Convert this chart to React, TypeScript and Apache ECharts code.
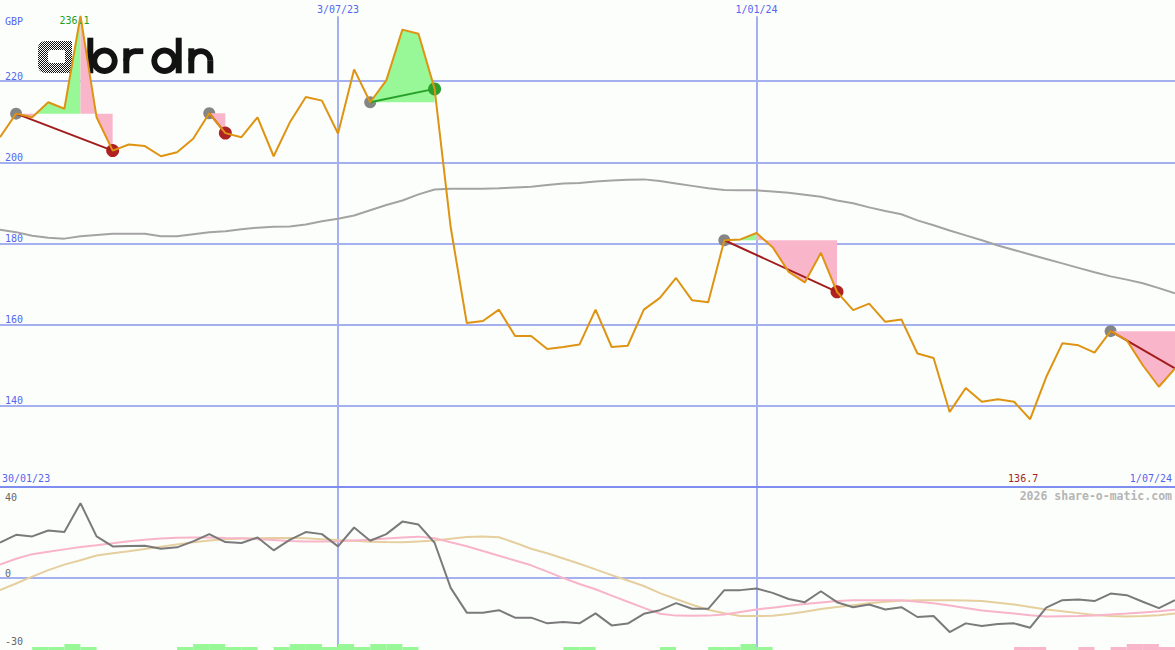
import React, { useEffect, useRef } from "react";
import * as echarts from "echarts";

// Weekly closing prices (GBP), first week 6/02/23
const price = [
  206.2, 212.0, 211.1, 214.8, 213.2, 236.1, 211.1, 202.9, 204.4, 204.0,
  201.5, 202.5, 205.8, 212.1, 207.2, 206.2, 211.1, 201.5, 209.8, 216.1,
  215.2, 207.1, 222.9, 214.8, 220.2, 232.7, 231.7, 218.1, 184.0, 160.4,
  160.9, 163.7, 157.2, 157.2, 154.0, 154.5, 155.1, 163.7, 154.5, 154.8,
  163.7, 166.6, 171.5, 166.0, 165.5, 180.8, 181.0, 182.6, 179.1, 173.0,
  170.4, 177.7, 168.1, 163.6, 165.2, 160.7, 161.3, 152.9, 151.8, 138.5,
  144.4, 141.0, 141.6, 141.0, 136.7, 147.1, 155.4, 154.9, 153.1, 158.4,
  156.2, 150.0, 144.7, 149.2,
];

// Long moving average of the close
const movingAvg = [
  183.4, 182.8, 181.9, 181.4, 181.2, 181.8, 182.1, 182.4, 182.4, 182.4,
  181.8, 181.8, 182.3, 182.8, 183.0, 183.5, 183.9, 184.1, 184.2, 184.7,
  185.5, 186.1, 186.9, 188.2, 189.5, 190.6, 192.1, 193.3, 193.5, 193.5,
  193.5, 193.6, 193.8, 194.0, 194.4, 194.8, 194.9, 195.3, 195.5, 195.7,
  195.8, 195.4, 194.8, 194.2, 193.6, 193.2, 193.1, 193.1, 192.8, 192.5,
  192.0, 191.5, 190.6, 189.9, 188.9, 188.0, 187.2, 185.7, 184.5, 183.2,
  182.0, 180.8, 179.5, 178.4, 177.3, 176.2, 175.1, 174.0, 172.9, 171.9,
  171.1, 170.2, 169.0, 167.7,
];

// Lower panel: momentum oscillator and its two smoothings
const momentum = [
  15.6, 19.0, 18.3, 20.9, 20.2, 32.9, 18.3, 13.9, 14.1, 14.2,
  12.9, 13.5, 16.1, 19.3, 15.8, 15.4, 17.8, 12.2, 16.8, 20.2,
  19.3, 13.9, 22.2, 16.4, 19.3, 24.8, 23.5, 15.5, -4.3, -15.2,
  -15.2, -14.1, -17.4, -17.4, -19.9, -19.3, -19.9, -15.5, -20.8, -20.0,
  -15.7, -14.1, -11.0, -13.5, -13.5, -5.3, -5.3, -4.6, -6.5, -9.2,
  -10.6, -5.8, -10.6, -12.8, -11.6, -13.8, -12.8, -17.1, -16.7, -23.7,
  -19.9, -21.1, -20.2, -19.9, -21.8, -13.0, -9.7, -9.4, -10.1, -6.8,
  -7.5, -10.4, -13.2, -9.7,
];

const fastSignal = [
  5.9, 8.5, 10.5, 11.6, 12.6, 13.6, 14.4, 15.3, 16.2, 16.8,
  17.4, 17.7, 17.8, 17.8, 17.6, 17.5, 17.0, 16.7, 16.3, 16.1,
  16.1, 16.2, 16.5, 16.8, 17.4, 17.8, 18.2, 17.5, 15.7, 14.0,
  11.9, 9.8, 7.7, 5.6, 2.8, 0.0, -2.6, -4.9, -7.7, -10.4,
  -13.1, -15.7, -16.5, -16.6, -16.5, -16.0, -14.9, -13.8, -13.0, -12.2,
  -11.4, -10.7, -10.1, -9.7, -9.7, -9.7, -9.7, -10.4, -11.1, -12.1,
  -13.2, -14.2, -14.9, -15.6, -16.3, -16.9, -16.8, -16.7, -16.4, -16.0,
  -15.6, -15.1, -14.6, -13.9,
];

const slowSignal = [
  -5.3, -2.4, 0.6, 3.5, 5.9, 7.8, 9.9, 10.9, 11.8, 12.8,
  13.8, 14.8, 15.7, 16.5, 17.0, 17.4, 17.5, 17.6, 17.6, 17.5,
  17.1, 16.7, 16.4, 16.0, 15.8, 15.7, 16.1, 16.5, 17.3, 18.0,
  18.3, 17.9, 15.5, 12.9, 10.9, 8.6, 6.3, 3.8, 1.3, -1.1,
  -3.5, -6.6, -9.2, -11.7, -13.9, -15.5, -16.7, -16.7, -16.6, -15.8,
  -14.8, -13.6, -12.7, -11.9, -11.1, -10.4, -10.0, -9.7, -9.7, -9.7,
  -9.9, -10.1, -10.8, -11.6, -12.7, -13.8, -14.6, -15.4, -16.2, -16.7,
  -16.9, -16.7, -16.3, -15.6,
];

// Weekly trend signal strength: +2 / +1 bullish, -1 / -2 bearish
const trendSignal = [
  0, 0, 1, 1, 2, 1, 0, 0, 0, 0,
  0, 1, 2, 2, 1, 1, 0, 1, 2, 2,
  1, 2, 1, 2, 2, 1, 0, 0, 0, 0,
  0, 0, 0, 0, 0, 1, 1, 0, 0, 0,
  0, 1, 0, 0, 1, 1, 2, 1, 0, 0,
  0, 0, 0, 0, 0, 0, 0, 0, 0, 0,
  0, 0, 0, -1, -1, 0, 0, -1, 0, -1,
  -2, -2, -1, 0,
];

// Swings: [start week, end week]
const swings: [number, number][] = [
  [1, 7],
  [13, 14],
  [23, 27],
  [45, 52],
  [69, 73],
];

const priceTicks = [140, 160, 180, 200, 220];
const lowerTicks = [40, 0, -30];
const dateMarks = ["3/07/23", "1/01/24"];
const periodStart = "30/01/23";
const periodEnd = "1/07/24";
const currency = "GBP";
const credit = "2026 share-o-matic.com";

const FIRST_WEEK = Date.UTC(2023, 1, 6);
const weeks = price.map((_, i) => {
  const d = new Date(FIRST_WEEK + i * 7 * 86400000);
  const mm = String(d.getUTCMonth() + 1).padStart(2, "0");
  const yy = String(d.getUTCFullYear()).slice(2);
  return `${d.getUTCDate()}/${mm}/${yy}`;
});

const PRICE_MIN = 120;
const PRICE_MAX = 240;
const LOWER_MIN = -31.6;
const LOWER_MAX = 40;

const BG = "#fcfefc";
const MONO = '"DejaVu Sans Mono", monospace';
const AXIS_BLUE = "#5566ee";
const GRID_BLUE = "#a4b0f0";
const SEP_BLUE = "#7f8df0";
const FILL_UP = "#98f898";
const FILL_DOWN = "#f9b6ca";

// Area between the price and the swing's starting level, plus the start dot
function swingFillItem(params: any, api: any) {
  const [s, e] = swings[params.dataIndex];
  const level = price[s];
  const rising = price[e] > level;
  let pivot = s;
  for (let k = s; k <= e; k++) {
    if (rising ? price[k] < price[pivot] : price[k] > price[pivot]) pivot = k;
  }
  const pts: number[][] = [];
  for (let k = s; k <= e; k++) pts.push(api.coord([k, price[k]]));
  const at = (k: number) => pts[k - s];
  const yL = api.coord([s, level])[1];
  const children: any[] = [
    { type: "circle", shape: { cx: at(s)[0], cy: at(s)[1], r: 6 }, style: { fill: "#858585" } },
  ];

  if (pivot > s) {
    const above: number[][] = [[at(s)[0], yL]];
    const below: number[][] = [[at(s)[0], yL]];
    for (let k = s; k <= pivot; k++) {
      const p = at(k);
      above.push([p[0], Math.min(p[1], yL)]);
      below.push([p[0], Math.max(p[1], yL)]);
      if (k < pivot) {
        const q = at(k + 1);
        if ((p[1] - yL) * (q[1] - yL) < 0) {
          const t = (yL - p[1]) / (q[1] - p[1]);
          const cx = p[0] + t * (q[0] - p[0]);
          above.push([cx, yL]);
          below.push([cx, yL]);
        }
      }
    }
    above.push([at(pivot)[0], yL]);
    below.push([at(pivot)[0], yL]);
    children.push({ type: "polygon", shape: { points: above }, style: { fill: FILL_UP } });
    children.push({ type: "polygon", shape: { points: below }, style: { fill: FILL_DOWN } });
  }
  if (e > pivot) {
    const poly: number[][] = [];
    for (let k = pivot; k <= e; k++) poly.push(at(k));
    poly.push([at(e)[0], yL]);
    poly.push([at(pivot)[0], yL]);
    children.push({
      type: "polygon",
      shape: { points: poly },
      style: { fill: rising ? FILL_UP : FILL_DOWN },
    });
  }
  return { type: "group", children };
}

// End dot and the straight swing line
function swingMarkItem(params: any, api: any) {
  const [s, e] = swings[params.dataIndex];
  const a = api.coord([s, price[s]]);
  const b = api.coord([e, price[e]]);
  const rising = price[e] > price[s];
  const children: any[] = [];
  if (e < price.length - 1) {
    children.push({
      type: "circle",
      shape: { cx: b[0], cy: b[1], r: 6.5 },
      style: { fill: rising ? "#2e9e2e" : "#b02222" },
    });
  }
  children.push({
    type: "line",
    shape: { x1: a[0], y1: a[1], x2: b[0], y2: b[1] },
    style: { stroke: rising ? "#27a027" : "#a31c1c", lineWidth: 2 },
  });
  return { type: "group", children };
}

function trendBarItem(params: any, api: any) {
  const k = api.value(0);
  const v = api.value(1);
  if (!v) return null;
  const a = api.coord([k, LOWER_MIN]);
  const b = api.coord([k + 1, LOWER_MIN]);
  const h = Math.abs(v) * 3;
  return {
    type: "rect",
    shape: { x: a[0], y: a[1] - h, width: b[0] - a[0], height: h },
    style: { fill: v > 0 ? FILL_UP : FILL_DOWN },
  };
}

const lowIdx = price.indexOf(Math.min(...price));
const lowVal = price[lowIdx];

function buildOption() {
  const labelFont = { fontFamily: MONO, fontSize: 10 };
  return {
    animation: false,
    backgroundColor: BG,
    grid: [
      { left: 0, top: 0, width: 1175, height: 487 },
      { left: 0, top: 487, width: 1175, height: 163 },
    ],
    xAxis: [0, 1].map((g) => ({
      type: "category",
      gridIndex: g,
      data: weeks,
      boundaryGap: false,
      show: false,
    })),
    yAxis: [
      {
        type: "value",
        gridIndex: 0,
        min: PRICE_MIN,
        max: PRICE_MAX,
        interval: 20,
        axisLine: { show: false },
        axisTick: { show: false },
        splitLine: { show: false },
        axisLabel: {
          inside: true,
          margin: 5,
          verticalAlign: "bottom",
          color: AXIS_BLUE,
          ...labelFont,
          formatter: (v: number) => (priceTicks.includes(v) ? String(v) : ""),
        },
      },
      {
        type: "value",
        gridIndex: 1,
        min: LOWER_MIN,
        max: LOWER_MAX,
        show: false,
        splitLine: { show: false },
      },
    ],
    series: [
      {
        type: "custom",
        name: "swing-fill",
        xAxisIndex: 0,
        yAxisIndex: 0,
        z: 2,
        silent: true,
        data: swings.map(([s]) => [s, price[s]]),
        renderItem: swingFillItem,
      },
      {
        type: "line",
        name: "average",
        xAxisIndex: 0,
        yAxisIndex: 0,
        z: 3,
        data: movingAvg,
        symbol: "none",
        lineStyle: { color: "#a3a3a3", width: 2 },
        markLine: {
          z: 1,
          silent: true,
          symbol: ["none", "none"],
          label: { show: false },
          lineStyle: { color: GRID_BLUE, width: 2, type: "solid" },
          data: [
            ...priceTicks.map((v) => ({ yAxis: v })),
            ...dateMarks.map((d) => [
              {
                xAxis: d,
                yAxis: PRICE_MAX - 4,
                label: {
                  show: true,
                  position: "start",
                  distance: 2,
                  formatter: d,
                  color: AXIS_BLUE,
                  ...labelFont,
                },
              },
              { xAxis: d, yAxis: PRICE_MIN },
            ]),
          ],
        },
      },
      {
        type: "custom",
        name: "swing-marks",
        xAxisIndex: 0,
        yAxisIndex: 0,
        z: 4,
        silent: true,
        data: swings.map(([s]) => [s, price[s]]),
        renderItem: swingMarkItem,
      },
      {
        type: "line",
        name: "price",
        xAxisIndex: 0,
        yAxisIndex: 0,
        z: 5,
        data: price,
        symbol: "none",
        lineStyle: { color: "#de9412", width: 2 },
        markPoint: {
          z: 6,
          silent: true,
          symbol: "circle",
          symbolSize: 1,
          itemStyle: { color: "rgba(0,0,0,0)" },
          label: {
            show: true,
            position: "inside",
            ...labelFont,
            formatter: (p: any) => Number(p.value).toFixed(1),
          },
          data: [
            { type: "max", label: { offset: [-6, 5], color: "#22a022" } },
            {
              coord: [lowIdx, PRICE_MIN],
              value: lowVal,
              label: { offset: [-7, -9], color: "#a01f1f" },
            },
          ],
        },
      },
      {
        type: "custom",
        name: "trend",
        xAxisIndex: 1,
        yAxisIndex: 1,
        z: 2,
        silent: true,
        data: trendSignal.map((v, i) => [i, v]),
        renderItem: trendBarItem,
      },
      {
        type: "line",
        name: "slow",
        xAxisIndex: 1,
        yAxisIndex: 1,
        z: 3,
        data: slowSignal,
        symbol: "none",
        lineStyle: { color: "#e6cf9e", width: 2 },
      },
      {
        type: "line",
        name: "fast",
        xAxisIndex: 1,
        yAxisIndex: 1,
        z: 3,
        data: fastSignal,
        symbol: "none",
        lineStyle: { color: "#f8b4c8", width: 2 },
      },
      {
        type: "line",
        name: "momentum",
        xAxisIndex: 1,
        yAxisIndex: 1,
        z: 4,
        data: momentum,
        symbol: "none",
        lineStyle: { color: "#7a7a7a", width: 2 },
        markLine: {
          z: 1,
          silent: true,
          symbol: ["none", "none"],
          label: { show: false },
          lineStyle: { color: GRID_BLUE, width: 2, type: "solid" },
          data: [{ yAxis: 0 }, ...dateMarks.map((d) => ({ xAxis: d }))],
        },
      },
    ],
  };
}

// abrdn wordmark: squared "a" bowl
const A_GLYPH =
  "M8 0 H34 V32 H8 Q0 32 0 24 V8 Q0 0 8 0 Z " +
  "M13 9 Q10 9 10 12 V19 Q10 22 13 22 H27 V9 Z";

function checkerFill() {
  const c = document.createElement("canvas");
  c.width = 2;
  c.height = 2;
  const ctx = c.getContext("2d");
  if (!ctx) return "#555";
  ctx.fillStyle = "#ffffff";
  ctx.fillRect(0, 0, 2, 2);
  ctx.fillStyle = "#111111";
  ctx.fillRect(0, 0, 1, 1);
  ctx.fillRect(1, 1, 1, 1);
  return { image: c.toDataURL(), repeat: "repeat" };
}

function logoElements() {
  const ink = { fill: "#121212" };
  const g = [
    { type: "abrdnA", x: 38, y: 41, style: { fill: checkerFill() } },
    // b
    { type: "rect", shape: { x: 87.3, y: 37.7, width: 6, height: 35.6 }, style: ink },
    { type: "ring", shape: { cx: 104.5, cy: 60.8, r: 13.2, r0: 7.3 }, style: ink },
    // r
    { type: "rect", shape: { x: 123.3, y: 48.3, width: 6, height: 25 }, style: ink },
    {
      type: "sector",
      shape: { cx: 136, cy: 60.9, r: 12.6, r0: 6.8, startAngle: Math.PI, endAngle: Math.PI * 1.5 },
      style: ink,
    },
    { type: "rect", shape: { x: 135.5, y: 48.3, width: 7.8, height: 5.8 }, style: ink },
    // d
    { type: "ring", shape: { cx: 164.5, cy: 60.8, r: 13.2, r0: 7.3 }, style: ink },
    { type: "rect", shape: { x: 175.7, y: 37.7, width: 6, height: 35.6 }, style: ink },
    // n
    { type: "rect", shape: { x: 188.3, y: 48.3, width: 6, height: 25 }, style: ink },
    {
      type: "sector",
      shape: { cx: 200.8, cy: 60.8, r: 12.5, r0: 6.7, startAngle: Math.PI, endAngle: Math.PI * 2 },
      style: ink,
    },
    { type: "rect", shape: { x: 207.3, y: 60.5, width: 6, height: 12.8 }, style: ink },
  ];
  return { type: "group", z: 3, silent: true, children: g };
}

export default function App() {
  const ref = useRef<HTMLDivElement>(null);

  useEffect(() => {
    if (!ref.current) return;
    echarts.graphic.registerShape("abrdnA", echarts.graphic.extendPath(A_GLYPH, {}));
    const chart = echarts.init(ref.current, null, { renderer: "svg" });
    chart.setOption(buildOption() as any);

    const py = (axis: number, v: number) =>
      chart.convertToPixel({ yAxisIndex: axis } as any, v) as number;
    const sepY = py(0, PRICE_MIN);
    const font = { fontFamily: MONO, fontSize: 10 };

    const lowerLabels = lowerTicks.map((v) => {
      const y = py(1, v);
      const cy = y - 5 < sepY + 6 ? y + 10 : y - 5;
      return {
        type: "text",
        x: 5,
        y: cy,
        silent: true,
        style: { text: String(v), fill: "#666666", ...font, align: "left", verticalAlign: "middle" },
      };
    });

    chart.setOption({
      graphic: [
        logoElements(),
        {
          type: "line",
          silent: true,
          z: 6,
          shape: { x1: 0, y1: sepY, x2: 1175, y2: sepY },
          style: { stroke: SEP_BLUE, lineWidth: 2 },
        },
        {
          type: "text",
          x: 5,
          y: 21,
          silent: true,
          style: { text: currency, fill: AXIS_BLUE, ...font, align: "left", verticalAlign: "middle" },
        },
        {
          type: "text",
          x: 2,
          y: sepY - 9,
          silent: true,
          style: { text: periodStart, fill: AXIS_BLUE, ...font, align: "left", verticalAlign: "middle" },
        },
        {
          type: "text",
          x: 1172,
          y: sepY - 9,
          silent: true,
          style: { text: periodEnd, fill: AXIS_BLUE, ...font, align: "right", verticalAlign: "middle" },
        },
        {
          type: "text",
          x: 1172,
          y: sepY + 9,
          silent: true,
          style: {
            text: credit,
            fill: "#b5b5b5",
            fontFamily: MONO,
            fontSize: 11.5,
            fontWeight: "bold",
            align: "right",
            verticalAlign: "middle",
          },
        },
        ...lowerLabels,
      ],
    } as any);

    return () => chart.dispose();
  }, []);

  return (
    <div
      ref={ref}
      style={{ position: "fixed", left: 0, top: 0, width: 1175, height: 650, background: BG }}
    />
  );
}
